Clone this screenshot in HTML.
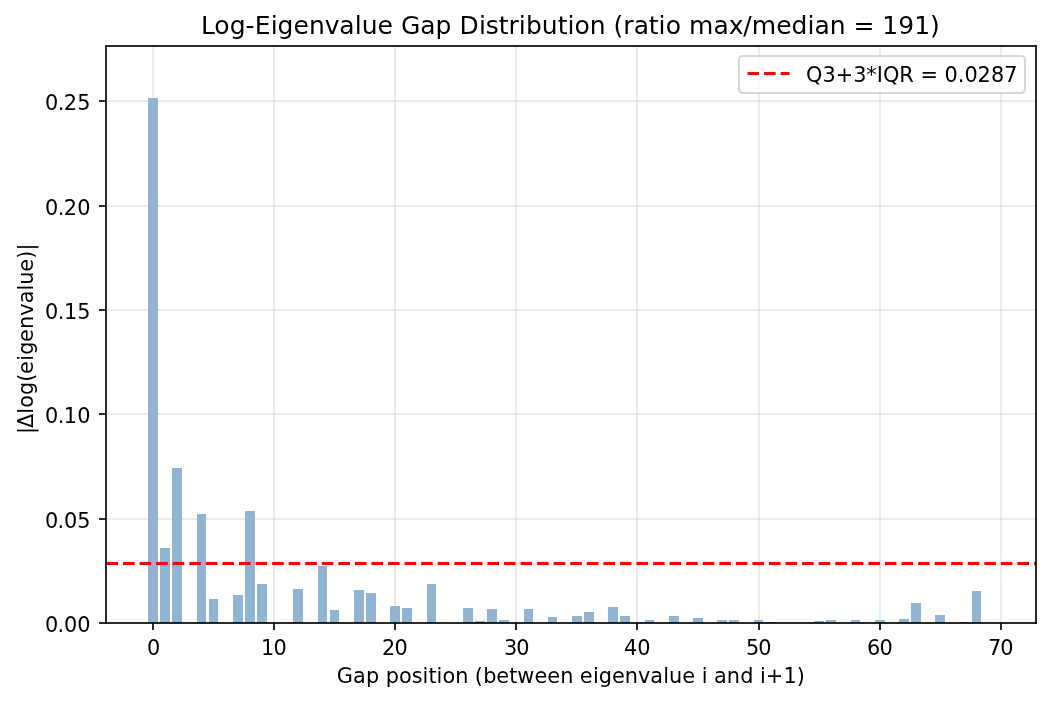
<!DOCTYPE html>
<html lang="en"><head><meta charset="utf-8"><title>Log-Eigenvalue Gap Distribution</title>
<style>
html,body{margin:0;padding:0;background:#fff;}
body{width:1050px;height:701px;overflow:hidden;}
svg{display:block;}
text{font-family:"DejaVu Sans","Liberation Sans",sans-serif;fill:#000;}
.t10{font-size:20.8333px;}
.t12{font-size:25px;}
</style></head><body>
<svg width="1050" height="701" viewBox="0 0 1050 701" role="img" aria-label="Log-Eigenvalue Gap Distribution bar chart">
<rect width="1050" height="701" fill="#fff"/>
<!-- bars -->
<g fill="#4682b4" fill-opacity="0.6" shape-rendering="crispEdges">
<rect x="148" y="98" width="10" height="525"/>
<rect x="160" y="548" width="10" height="75"/>
<rect x="172" y="468" width="10" height="155"/>
<rect x="197" y="514" width="9" height="109"/>
<rect x="209" y="599" width="9" height="24"/>
<rect x="233" y="595" width="10" height="28"/>
<rect x="245" y="511" width="10" height="112"/>
<rect x="257" y="584" width="10" height="39"/>
<rect x="293" y="589" width="10" height="34"/>
<rect x="318" y="566" width="9" height="57"/>
<rect x="330" y="610" width="9" height="13"/>
<rect x="354" y="590" width="10" height="33"/>
<rect x="366" y="593" width="10" height="30"/>
<rect x="390" y="606" width="10" height="17"/>
<rect x="402" y="608" width="10" height="15"/>
<rect x="427" y="584" width="9" height="39"/>
<rect x="463" y="608" width="10" height="15"/>
<rect x="475" y="621" width="10" height="2"/>
<rect x="487" y="609" width="10" height="14"/>
<rect x="499" y="620" width="10" height="3"/>
<rect x="524" y="609" width="9" height="14"/>
<rect x="548" y="617" width="9" height="6"/>
<rect x="572" y="616" width="10" height="7"/>
<rect x="584" y="612" width="10" height="11"/>
<rect x="608" y="607" width="10" height="16"/>
<rect x="620" y="616" width="10" height="7"/>
<rect x="645" y="620" width="9" height="3"/>
<rect x="669" y="616" width="10" height="7"/>
<rect x="693" y="618" width="10" height="5"/>
<rect x="717" y="620" width="10" height="3"/>
<rect x="729" y="620" width="10" height="3"/>
<rect x="754" y="620" width="9" height="3"/>
<rect x="766" y="622" width="9" height="1"/>
<rect x="814" y="621" width="10" height="2"/>
<rect x="826" y="620" width="10" height="3"/>
<rect x="851" y="620" width="9" height="3"/>
<rect x="875" y="620" width="10" height="3"/>
<rect x="899" y="619" width="10" height="4"/>
<rect x="911" y="603" width="10" height="20"/>
<rect x="935" y="615" width="10" height="8"/>
<rect x="960" y="622" width="9" height="1"/>
<rect x="972" y="591" width="9" height="32"/>
</g>
<!-- grid -->
<g fill="#b0b0b0" fill-opacity="0.25" shape-rendering="crispEdges">
<rect x="152" y="46" width="2" height="577"/>
<rect x="273" y="46" width="2" height="577"/>
<rect x="394" y="46" width="2" height="577"/>
<rect x="515" y="46" width="2" height="577"/>
<rect x="636" y="46" width="2" height="577"/>
<rect x="758" y="46" width="2" height="577"/>
<rect x="879" y="46" width="2" height="577"/>
<rect x="1000" y="46" width="2" height="577"/>
<rect x="106" y="622" width="930" height="1"/>
<rect x="106" y="518" width="930" height="2"/>
<rect x="106" y="413" width="930" height="2"/>
<rect x="106" y="309" width="930" height="2"/>
<rect x="106" y="205" width="930" height="2"/>
<rect x="106" y="100" width="930" height="2"/>
</g>
<!-- threshold line -->
<g stroke="#f00" stroke-dasharray="11.5625 5" fill="none">
<line x1="106.5" y1="563.5" x2="1036" y2="563.5" stroke-opacity="0.0625" stroke-width="5"/>
<line x1="106.5" y1="563.5" x2="1036" y2="563.5" stroke-width="3"/>
</g>
<!-- spines and ticks -->
<g fill="#000" fill-opacity="0.8353" shape-rendering="crispEdges">
<rect x="105" y="45" width="2" height="579"/>
<rect x="1035" y="45" width="2" height="579"/>
<rect x="107" y="45" width="928" height="2"/>
<rect x="107" y="622" width="928" height="2"/>
<rect x="152" y="623" width="2" height="7"/>
<rect x="273" y="623" width="2" height="7"/>
<rect x="394" y="623" width="2" height="7"/>
<rect x="515" y="623" width="2" height="7"/>
<rect x="636" y="623" width="2" height="7"/>
<rect x="758" y="623" width="2" height="7"/>
<rect x="879" y="623" width="2" height="7"/>
<rect x="1000" y="623" width="2" height="7"/>
<rect x="99" y="622" width="7" height="2"/>
<rect x="99" y="518" width="7" height="2"/>
<rect x="99" y="413" width="7" height="2"/>
<rect x="99" y="309" width="7" height="2"/>
<rect x="99" y="205" width="7" height="2"/>
<rect x="99" y="100" width="7" height="2"/>
</g>
<g fill="#000" shape-rendering="crispEdges">
<rect x="105" y="45" width="1" height="1" fill-opacity="0.459"/>
<rect x="106" y="45" width="1" height="1" fill-opacity="0.718"/>
<rect x="105" y="46" width="1" height="1" fill-opacity="0.718"/>
<rect x="106" y="46" width="1" height="1" fill-opacity="0.835"/>
<rect x="1036" y="45" width="1" height="1" fill-opacity="0.459"/>
<rect x="1035" y="45" width="1" height="1" fill-opacity="0.718"/>
<rect x="1036" y="46" width="1" height="1" fill-opacity="0.718"/>
<rect x="1035" y="46" width="1" height="1" fill-opacity="0.835"/>
<rect x="1036" y="623" width="1" height="1" fill-opacity="0.459"/>
<rect x="1035" y="623" width="1" height="1" fill-opacity="0.718"/>
<rect x="1036" y="622" width="1" height="1" fill-opacity="0.718"/>
<rect x="1035" y="622" width="1" height="1" fill-opacity="0.835"/>
<rect x="105" y="622" width="1" height="1" fill-opacity="0.718"/>
<rect x="106" y="622" width="1" height="1" fill-opacity="0.847"/>
<rect x="105" y="623" width="1" height="1" fill-opacity="0.576"/>
<rect x="106" y="623" width="1" height="1" fill-opacity="0.718"/>
</g>
<!-- legend -->
<path d="M743.17 56 H1020.83 Q1025 56 1025 60.17 V88.83 Q1025 93 1020.83 93 H743.17 Q739 93 739 88.83 V60.17 Q739 56 743.17 56 Z" fill="#fff" fill-opacity="0.8" stroke="#ccc" stroke-opacity="0.8" stroke-width="2.0833" stroke-linejoin="miter"/>
<g stroke="#f00" stroke-dasharray="11.5625 5" fill="none">
<line x1="747.5" y1="73.5" x2="789.5" y2="73.5" stroke-opacity="0.0625" stroke-width="5"/>
<line x1="747.5" y1="73.5" x2="789.5" y2="73.5" stroke-width="3"/>
</g>
<!-- text -->
<text id="xt0" class="t10" x="147.05" y="655">0</text>
<text id="xt1" class="t10" x="260.93 273.38" y="655">10</text>
<text id="xt2" class="t10" x="381.92 394.39" y="655">20</text>
<text id="xt3" class="t10" x="503.9 516.37" y="655">30</text>
<text id="xt4" class="t10" x="623.88 637.31" y="655">40</text>
<text id="xt5" class="t10" x="745.9 758.37" y="655">50</text>
<text id="xt6" class="t10" x="866.91 879.45" y="655">60</text>
<text id="xt7" class="t10" x="987.88 1000.35" y="655">70</text>
<text id="yt0" class="t10" x="44.96 57.5 63.88 77.16" y="632">0.00</text>
<text id="yt1" class="t10" x="44.96 57.48 63.91 77.17" y="528">0.05</text>
<text id="yt2" class="t10" x="44.93 57.7 63.87 77.18" y="423">0.10</text>
<text id="yt3" class="t10" x="44.93 57.7 63.88 77.16" y="319">0.15</text>
<text id="yt4" class="t10" x="44.93 57.7 63.83 77.15" y="215">0.20</text>
<text id="yt5" class="t10" x="44.93 57.67 63.86 77.17" y="110">0.25</text>
<text id="xlabel" class="t10" x="336.84 353.01 365.94 378.98 385.74 399.04 411.78 422.61 428.4 436.62 442.43 455.16 468.1 474.86 483.15 496.26 509.15 517.36 534.45 547.19 560.17 572.92 579.79 592.92 598.77 612.11 624.84 638.1 650.16 663.16 669.07 682.17 694.26 701.68 706.67 714.02 726.87 740.13 752.48 759.9 765.87 783.4 796.68" y="683">Gap position (between eigenvalue i and i+1)</text>
<text id="ylabel" class="t10" transform="translate(33 339.2) rotate(-90)" x="-94.93 -88.74 -74.63 -68.51 -55.93 -42.64 -34.73 -21.68 -15.67 -2.7 10.29 23.48 35.83 48.58 54.4 67.57 80.51 88.59" y="0">|Δlog(eigenvalue)|</text>
<text id="title" class="t12" x="200.97 214.36 229.84 245.54 254.66 270.64 277.59 293.4 308.91 324.75 339.33 354.68 361.71 377.6 392.64 400.9 420.15 435.54 451.14 459.41 478.9 485.63 498.76 508.55 518.85 525.95 541.86 557.65 567.43 574.43 589.84 604.94 613.61 623.36 633.64 648.85 658.62 665.68 680.28 688.97 713.4 728.65 743.19 751.68 776.16 791.52 807.46 814.39 829.66 844.83 853.48 873.72 882.23 898.32 914.16 930.03" y="34">Log-Eigenvalue Gap Distribution (ratio max/median = 191)</text>
<text id="legtext" class="t10" x="805.98 822.57 835.66 853.35 866.34 876.82 882.89 899.17 914.02 920.39 938.08 944.57 957.78 964.4 977.6 990.91 1004.13" y="82">Q3+3*IQR = 0.0287</text>
</svg>
</body></html>
